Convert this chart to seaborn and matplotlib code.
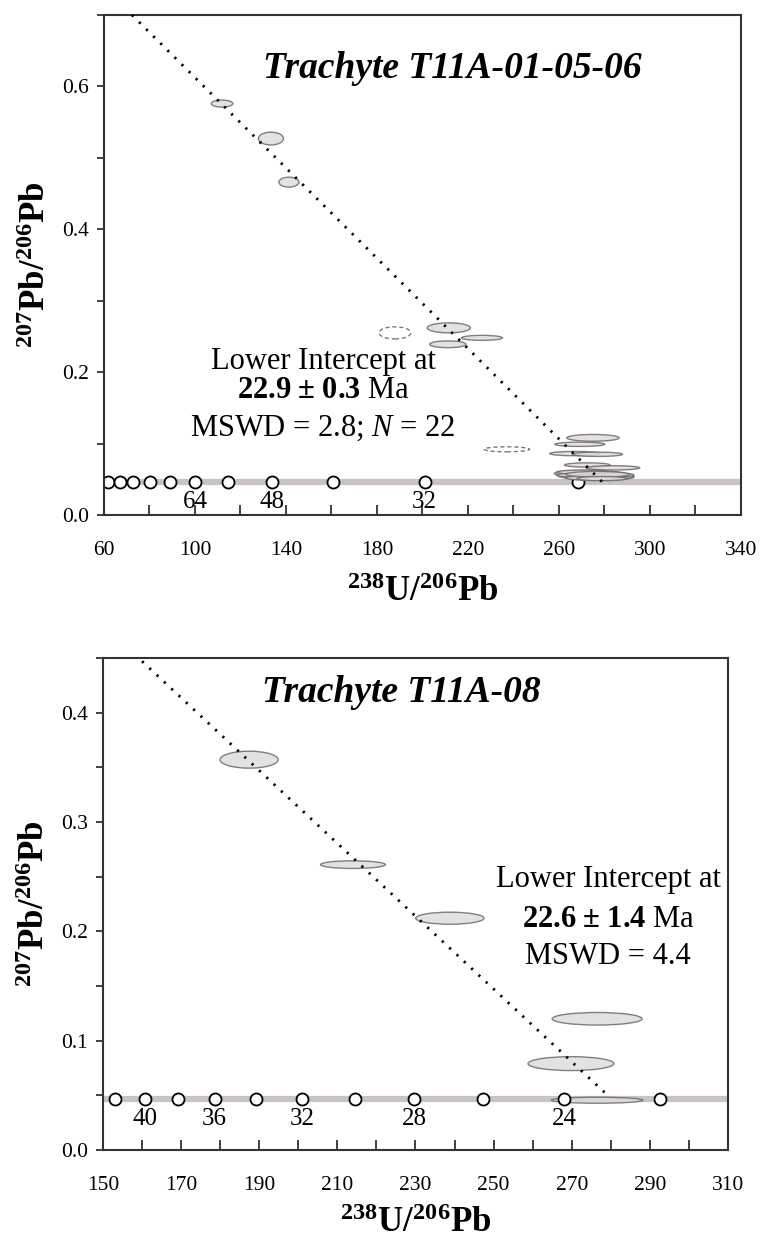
import numpy as np
import pandas as pd
import matplotlib
matplotlib.use("Agg")
import matplotlib.pyplot as plt
import seaborn as sns
from matplotlib.patches import Ellipse

# ---- data ----
# top panel: T11A-01-05-06
top_ell_x = [111.9, 133.4, 141.3, 211.6, 211.2, 226.2,
             275.0, 269.2, 267.0, 277.0, 272.5, 283.8,
             273.0, 276.0, 278.0, 272.0, 280.0, 275.0, 283.0, 270.0, 277.0, 279.0]
top_ell_y = [0.576, 0.527, 0.466, 0.262, 0.239, 0.248,
             0.108, 0.099, 0.086, 0.085, 0.070, 0.066,
             0.058, 0.055, 0.053, 0.056, 0.054, 0.052, 0.056, 0.060, 0.057, 0.051]
top_ell_w = [9.5, 11.0, 8.8, 19.0, 16.0, 18.0,
             23.0, 22.0, 22.0, 22.0, 20.0, 23.5,
             30.0, 33.0, 30.0, 26.0, 26.0, 24.0, 20.0, 22.0, 28.0, 22.0]
top_ell_h = [0.0098, 0.018, 0.014, 0.014, 0.0095, 0.007,
             0.0095, 0.006, 0.006, 0.006, 0.006, 0.006,
             0.009, 0.010, 0.008, 0.007, 0.008, 0.007, 0.006, 0.006, 0.008, 0.006]
# rejected analyses (dashed)
top_rej_x = [187.9, 237.1]
top_rej_y = [0.255, 0.092]
top_rej_w = [14.0, 20.0]
top_rej_h = [0.017, 0.007]

top_conc_x = [61.7, 66.9, 72.9, 80.2, 89.1, 100.2, 114.6, 133.8, 160.7, 201.0, 268.2]
top_conc_age = [104, 96, 88, 80, 72, 64, 56, 48, 40, 32, 24]
top_age_labels = [64, 48, 32]
top_disc_x = [72.3, 279.0]
top_disc_y = [0.700, 0.0465]

# bottom panel: T11A-08
bot_ell_x = [187.4, 214.0, 238.8, 276.5, 269.8, 276.5]
bot_ell_y = [0.357, 0.261, 0.212, 0.120, 0.079, 0.0455]
bot_ell_w = [14.9, 16.6, 17.5, 23.0, 22.0, 23.4]
bot_ell_h = [0.0155, 0.007, 0.011, 0.0115, 0.0127, 0.0055]

bot_conc_x = [153.1, 160.7, 169.2, 178.6, 189.1, 201.0, 214.4, 229.7, 247.4, 268.1, 292.5]
bot_conc_age = [42, 40, 38, 36, 34, 32, 30, 28, 26, 24, 22]
bot_age_labels = [40, 36, 32, 28, 24]
bot_disc_x = [160.0, 279.8]
bot_disc_y = [0.447, 0.048]

conc_level = 0.0465

sns.set_style("ticks")
plt.rcParams["font.family"] = ["Liberation Serif", "DejaVu Serif"]
plt.rcParams["mathtext.fontset"] = "custom"
plt.rcParams["mathtext.rm"] = "Liberation Serif"
plt.rcParams["mathtext.it"] = "Liberation Serif:italic"
plt.rcParams["mathtext.bf"] = "Liberation Serif:bold"
plt.rcParams["text.color"] = "black"
plt.rcParams["axes.labelcolor"] = "black"
plt.rcParams["xtick.labelcolor"] = "black"
plt.rcParams["ytick.labelcolor"] = "black"

fig = plt.figure(figsize=(7.6, 12.38), dpi=100)
ax1 = fig.add_axes([0.1368, 0.584, 0.838, 0.4039])
ax2 = fig.add_axes([0.1355, 0.0711, 0.8224, 0.3974])

fill_c = "#e0dcdc"
edge_c = "#6e6a6a"


def draw_panel(ax, ex, ey, ew, eh, cx, cage, labels, dx, dy, ell_z, mark_z, lab_dy):
    ax.axhline(conc_level, color="#c9c4c1", lw=4.5, zorder=1)
    conc = pd.DataFrame({"x": cx, "y": [conc_level] * len(cx), "age": cage})
    sns.scatterplot(data=conc, x="x", y="y", ax=ax, s=75, color="white",
                    edgecolor="black", linewidth=1.3, zorder=mark_z, legend=False)
    for a in labels:
        xa = conc.loc[conc["age"] == a, "x"].values[0]
        ax.text(xa, conc_level - lab_dy, str(a), ha="center", va="center",
                fontsize=18, zorder=6)
    disc = pd.DataFrame({"x": dx, "y": dy})
    sns.lineplot(data=disc, x="x", y="y", ax=ax, color="black", lw=2.0,
                 linestyle=(0, (0.8, 2.8)), zorder=5)
    for x, y, w, h in zip(ex, ey, ew, eh):
        ax.add_patch(Ellipse((x, y), w, h, facecolor=fill_c, edgecolor=edge_c,
                             lw=1.0, alpha=0.85, zorder=ell_z))


draw_panel(ax1, top_ell_x, top_ell_y, top_ell_w, top_ell_h,
           top_conc_x, top_conc_age, top_age_labels, top_disc_x, top_disc_y,
           ell_z=4, mark_z=2, lab_dy=0.028)
for x, y, w, h in zip(top_rej_x, top_rej_y, top_rej_w, top_rej_h):
    ax1.add_patch(Ellipse((x, y), w, h, facecolor="none", edgecolor="#7a7a7a",
                          lw=1.0, linestyle=(0, (3, 2)), zorder=3))

draw_panel(ax2, bot_ell_x, bot_ell_y, bot_ell_w, bot_ell_h,
           bot_conc_x, bot_conc_age, bot_age_labels, bot_disc_x, bot_disc_y,
           ell_z=3, mark_z=4, lab_dy=0.0185)

# axes styling
ax1.set_xlim(60, 340)
ax1.set_ylim(0, 0.7)
ax1.set_xticks(np.arange(60, 341, 40))
ax1.set_xticks(np.arange(60, 341, 20), minor=True)
ax1.set_yticks([0.0, 0.2, 0.4, 0.6])
ax1.set_yticks(np.arange(0, 0.71, 0.1), minor=True)
ax1.set_yticklabels(["0.0", "0.2", "0.4", "0.6"])

ax2.set_xlim(150, 310)
ax2.set_ylim(0, 0.45)
ax2.set_xticks(np.arange(150, 311, 20))
ax2.set_xticks(np.arange(150, 311, 10), minor=True)
ax2.set_yticks([0.0, 0.1, 0.2, 0.3, 0.4])
ax2.set_yticks(np.arange(0, 0.451, 0.05), minor=True)
ax2.set_yticklabels(["0.0", "0.1", "0.2", "0.3", "0.4"])

for ax, xpad in ((ax1, 12), (ax2, 9)):
    for sp in ax.spines.values():
        sp.set_visible(True)
        sp.set_color("#333333")
        sp.set_linewidth(1.5)
    ax.tick_params(axis="x", which="both", direction="in", length=7, width=1.3,
                   color="#333333", labelcolor="black", labelsize=15.5, pad=18.5)
    ax.tick_params(axis="y", which="both", direction="out", length=5, width=1.3,
                   color="#333333", labelcolor="black", labelsize=15.5, pad=6)
    ax.set_xlabel(r"$\mathbf{^{238}U/^{206}Pb}$", fontsize=25, labelpad=xpad)
    ax.set_ylabel(r"$\mathbf{^{207}Pb/^{206}Pb}$", fontsize=25, labelpad=6)

ax1.text(213, 0.625, "Trachyte T11A-01-05-06", ha="center", va="center",
         fontsize=27, fontweight="bold", fontstyle="italic")
ax1.text(156.3, 0.215, "Lower Intercept at", ha="center", va="center", fontsize=22)
ax1.text(156.3, 0.175, r"$\mathbf{22.9\ ±\ 0.3}$ Ma", ha="center", va="center", fontsize=22)
ax1.text(156.3, 0.122, r"MSWD = 2.8; $N$ = 22", ha="center", va="center", fontsize=22)

ax2.text(226.3, 0.418, "Trachyte T11A-08", ha="center", va="center",
         fontsize=27, fontweight="bold", fontstyle="italic")
ax2.text(279.3, 0.247, "Lower Intercept at", ha="center", va="center", fontsize=22)
ax2.text(279.3, 0.211, r"$\mathbf{22.6\ ±\ 1.4}$ Ma", ha="center", va="center", fontsize=22)
ax2.text(279.3, 0.177, "MSWD = 4.4", ha="center", va="center", fontsize=22)

plt.savefig("out.png", dpi=100)
